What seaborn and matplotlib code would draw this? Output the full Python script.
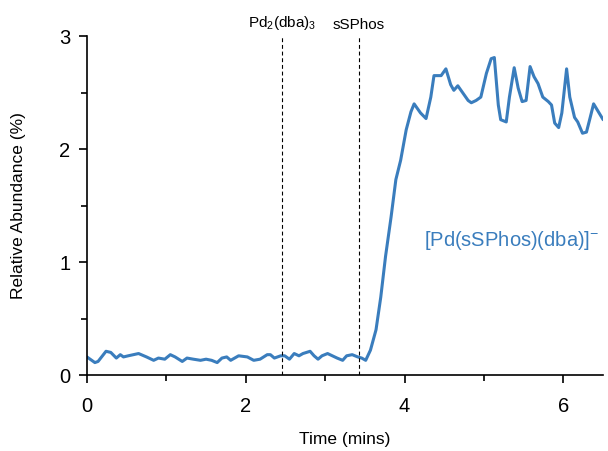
import pandas as pd
import matplotlib
matplotlib.use("Agg")
import matplotlib.pyplot as plt
from matplotlib.ticker import MultipleLocator
import seaborn as sns

# time (mins) and relative abundance (%)
time = [0.00, 0.10, 0.14, 0.24, 0.30, 0.37, 0.42, 0.46, 0.52, 0.65, 0.75, 0.84,
        0.90, 0.98, 1.05, 1.11, 1.20, 1.26, 1.34, 1.43, 1.50, 1.57, 1.64, 1.70,
        1.76, 1.81, 1.91, 2.02, 2.10, 2.18, 2.27, 2.31, 2.36, 2.44, 2.49, 2.55,
        2.61, 2.67, 2.72, 2.81, 2.86, 2.91, 2.96, 3.03, 3.09, 3.15, 3.22, 3.27,
        3.34, 3.41, 3.46, 3.51, 3.57, 3.64, 3.70, 3.76, 3.83, 3.89, 3.95, 4.02,
        4.08, 4.12, 4.20, 4.27, 4.33, 4.37, 4.46, 4.52, 4.58, 4.62, 4.67, 4.73,
        4.80, 4.84, 4.90, 4.96, 5.03, 5.09, 5.13, 5.18, 5.21, 5.28, 5.32, 5.38,
        5.43, 5.48, 5.53, 5.58, 5.63, 5.68, 5.74, 5.81, 5.85, 5.89, 5.94, 5.98,
        6.04, 6.08, 6.14, 6.18, 6.24, 6.29, 6.33, 6.38, 6.44, 6.50]
abundance = [0.16, 0.11, 0.12, 0.21, 0.20, 0.15, 0.18, 0.16, 0.17, 0.19, 0.16, 0.13,
             0.15, 0.14, 0.18, 0.16, 0.12, 0.15, 0.14, 0.13, 0.14, 0.13, 0.11, 0.15,
             0.16, 0.13, 0.17, 0.16, 0.13, 0.14, 0.18, 0.18, 0.15, 0.17, 0.17, 0.14,
             0.19, 0.17, 0.19, 0.21, 0.17, 0.14, 0.17, 0.19, 0.17, 0.15, 0.13, 0.17,
             0.18, 0.16, 0.15, 0.13, 0.22, 0.40, 0.69, 1.05, 1.40, 1.73, 1.90, 2.17,
             2.33, 2.40, 2.32, 2.27, 2.46, 2.65, 2.65, 2.71, 2.57, 2.52, 2.56, 2.50,
             2.43, 2.41, 2.43, 2.46, 2.67, 2.80, 2.81, 2.39, 2.26, 2.24, 2.46, 2.72,
             2.54, 2.42, 2.43, 2.73, 2.64, 2.58, 2.46, 2.42, 2.39, 2.23, 2.19, 2.32,
             2.71, 2.46, 2.28, 2.24, 2.14, 2.15, 2.26, 2.40, 2.33, 2.26]

additions = [2.46, 3.42]
addition_labels = [r"Pd$_2$(dba)$_3$", "sSPhos"]
species = r"[Pd(sSPhos)(dba)]$^{-}$"

line_color = "#3a7dbd"

sns.set_style("ticks")
plt.rcParams["font.family"] = ["Liberation Sans", "DejaVu Sans"]
plt.rcParams["mathtext.fontset"] = "custom"
plt.rcParams["mathtext.rm"] = "Liberation Sans"
plt.rcParams["mathtext.it"] = "Liberation Sans"
plt.rcParams["mathtext.default"] = "rm"
plt.rcParams["text.color"] = "black"
plt.rcParams["axes.labelcolor"] = "black"
plt.rcParams["axes.edgecolor"] = "black"
plt.rcParams["xtick.color"] = "black"
plt.rcParams["ytick.color"] = "black"

df = pd.DataFrame({"Time (mins)": time, "Relative Abundance (%)": abundance})

fig, ax = plt.subplots(figsize=(6.08, 4.51), dpi=100)
fig.subplots_adjust(left=0.143, right=0.992, bottom=0.1685, top=0.92)

sns.lineplot(data=df, x="Time (mins)", y="Relative Abundance (%)",
             color=line_color, linewidth=2.2, ax=ax)

for x, lab in zip(additions, addition_labels):
    ax.axvline(x, color="black", linestyle=(0, (3.5, 2.5)), linewidth=0.8)
    ax.annotate(lab, xy=(x, 1.0), xycoords=("data", "axes fraction"),
                xytext=(0, 3), textcoords="offset points",
                ha="center", va="bottom", fontsize=11)

ax.text(4.25, 1.19, species, color=line_color, fontsize=14.5, va="center", ha="left")

ax.set_xlim(0, 6.5)
ax.set_ylim(0, 3)
ax.xaxis.set_major_locator(MultipleLocator(2))
ax.xaxis.set_minor_locator(MultipleLocator(1))
ax.yaxis.set_major_locator(MultipleLocator(1))
ax.yaxis.set_minor_locator(MultipleLocator(0.5))
ax.tick_params(which="major", length=6, width=1.2, labelsize=14.5, direction="out")
ax.tick_params(axis="x", which="major", pad=10)
ax.tick_params(axis="y", which="major", pad=6)
ax.tick_params(which="minor", length=4, width=1.2, direction="out")
ax.set_xlabel("Time (mins)", fontsize=12.5, labelpad=11)
ax.set_ylabel("Relative Abundance (%)", fontsize=12.5, labelpad=24)
for s in ["left", "bottom"]:
    ax.spines[s].set_linewidth(1.2)
sns.despine(ax=ax)

fig.savefig("out.png", dpi=100)
